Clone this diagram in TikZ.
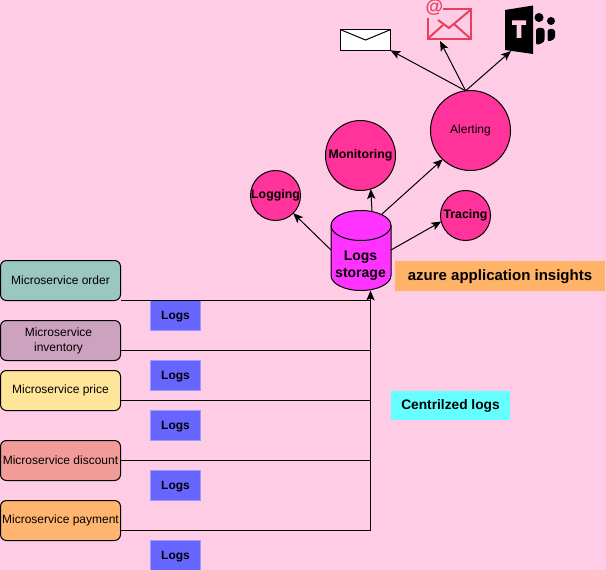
\documentclass[tikz,border=0pt]{standalone}
\usepackage{fontspec}
\setmainfont{Liberation Sans}
\usetikzlibrary{arrows.meta}
\definecolor{bgc}{HTML}{FFCCE6}
\definecolor{hot}{HTML}{FF3399}
\definecolor{cyl}{HTML}{FF33FF}
\definecolor{blu}{HTML}{6666FF}
\definecolor{blus}{HTML}{9999FF}
\definecolor{azu}{HTML}{FFB366}
\definecolor{cya}{HTML}{66FFFF}
\definecolor{teal1}{HTML}{9AC7BF}
\definecolor{mauve}{HTML}{CDA2BE}
\definecolor{yel}{HTML}{FFE599}
\definecolor{sal}{HTML}{F19C99}
\definecolor{ora}{HTML}{FFB570}
\definecolor{mailc}{HTML}{E8405C}
\tikzset{
  every node/.style={inner sep=0pt,outer sep=0pt,align=center,text=black},
  svc/.style={draw=black,line width=.75pt,rounded corners=4.5pt,minimum width=90pt,minimum height=30pt,font=\fontsize{9}{11.25}\selectfont},
  lg/.style={fill=blu,draw=blus,line width=.75pt,minimum width=37.5pt,minimum height=22.5pt},
  lgt/.style={font=\bfseries\fontsize{9}{11}\selectfont},
  ball/.style={circle,draw=black,fill=hot,line width=.75pt,font=\bfseries\fontsize{9.25}{11}\selectfont},
  link/.style={line width=.75pt,draw=black},
  arr/.style={line width=.75pt,draw=black,-{Stealth[length=7.5pt,width=6.2pt,inset=1.8pt]}},
}
\begin{document}
\begin{tikzpicture}[x=.75pt,y=-.75pt]
\path[use as bounding box,fill=bgc] (0,0) rectangle (606,570);
% log labels
\node[lg] (l1) at (175.5,315.5) {};
\node[lg] (l2) at (175.5,375.5) {};
\node[lg] (l3) at (175.5,425.5) {};
\node[lg] (l4) at (175.5,485.5) {};
\node[lg] (l5) at (175.5,555.5) {};
\node[lgt] at (175.5,316.3) {Logs};
\node[lgt] at (175.5,376.3) {Logs};
\node[lgt] at (175.5,426.3) {Logs};
\node[lgt] at (175.5,486.3) {Logs};
\node[lgt] at (175.5,556.3) {Logs};
% services
\node[svc,fill=teal1] (order) at (60.5,280.5) {Microservice order};
\node[svc,fill=mauve] (inventory) at (60.5,340.5) {};
\node[font=\fontsize{9}{11.25}\selectfont] at (58.5,341) {Microservice\\inventory};
\node[svc,fill=yel] (price) at (60.5,390.5) {Microservice price};
\node[svc,fill=sal] (discount) at (60.5,460.5) {Microservice discount};
\node[svc,fill=ora] (payment) at (60.5,520.5) {Microservice payment};
% storage
\fill[cyl,draw=black,line width=.75pt] (331,225.5) -- (331,275.5) arc[start angle=180,end angle=360,x radius=22.5pt,y radius=11.25pt] -- (391,225.5) arc[start angle=0,end angle=180,x radius=22.5pt,y radius=11.25pt] -- cycle;
\draw[line width=.75pt] (331,225.5) arc[start angle=180,end angle=360,x radius=22.5pt,y radius=11.25pt];
\node[minimum width=45pt,minimum height=60pt] (store) at (361,250.5) {};
\node[font=\bfseries\fontsize{10.5}{12.75}\selectfont] at (360.5,265.8) {Logs\\storage};
\coordinate (storeL) at (331,250);
\coordinate (storeT) at (372,211);
\coordinate (storeTR) at (382,214);
\coordinate (storeR) at (391,250);
% circles
\node[ball,minimum size=37.5pt] (logging) at (275.5,195.5) {Logging};
\node[ball,minimum size=52.5pt] (monitoring) at (360.5,155.5) {Monitoring};
\node[ball,minimum size=60pt,font=\fontsize{9}{11}\selectfont] (alerting) at (470.5,130.5) {Alerting};
\node[ball,minimum size=37.5pt] (tracing) at (465.5,215.5) {Tracing};
\node[fill=azu,minimum width=157.5pt,minimum height=22.5pt] (azure) at (500,275.5) {};
\node[font=\bfseries\fontsize{11.25}{13}\selectfont] at (500,276.3) {azure application insights};
\node[fill=cya,minimum width=89.5pt,minimum height=22pt] (central) at (450.5,405.3) {};
\node[font=\bfseries\fontsize{10.3}{12}\selectfont] at (450.5,405.8) {Centrilzed logs};
% icons
\node[draw=black,fill=white,line width=.75pt,minimum width=37.5pt,minimum height=15.5pt] (envelope) at (365.5,40) {};
\draw[line width=.75pt] (envelope.north west) -- (365.5,40) -- (envelope.north east);
\coordinate (mailicon) at (440,41);
\draw[mailc,line width=1.5pt] (443,9.5) -- (471,9.5) -- (471,39) -- (427.5,39) -- (427.5,18);
\draw[mailc,line width=1.5pt] (471,9.5) -- (449,28) -- (438,20);
\draw[mailc,line width=1.5pt] (427.5,39) -- (443,25);
\draw[mailc,line width=1.5pt] (471,39) -- (454,24);
\node[text=mailc,font=\bfseries\fontsize{13.5}{13.5}\selectfont] (atsign) at (434.5,8) {@};
\fill[black] (505,10) -- (533,5.5) -- (533,54) -- (505,50) -- cycle;
\fill[bgc] (512,20.5) -- (526,20.5) -- (526,25) -- (521.3,25) -- (521.3,38) -- (516.7,38) -- (516.7,25) -- (512,25) -- cycle;
\fill[black] (539,17.5) circle[radius=3.4pt];
\fill[black] (551,21) circle[radius=3pt];
\fill[black,rounded corners=2pt] (536,28) -- (544.5,28) -- (544.5,42) -- (536,45.5) -- cycle;
\fill[black,rounded corners=2pt] (547.5,29) -- (555,29) -- (555,39) -- (547.5,42) -- cycle;
\coordinate (teamsicon) at (511,51);
% connectors
\draw[link] (order.south east) -- (370.5,300.5);
\draw[link] ([yshift=-7.5pt]inventory.east) -- (370.5,350.5);
\draw[link] ([yshift=-7.5pt]price.east) -- (370.5,400.5);
\draw[link] (discount.east) -- (370.5,460.5);
\draw[link] ([yshift=-7.5pt]payment.east) -- (370.5,530.5) coordinate (trunk);
\draw[arr] (trunk) -- (store.south -| trunk);
\draw[arr] (storeL) -- (logging.-45);
\draw[arr] (storeT) -- (monitoring.-73);
\draw[arr] (storeTR) -- (alerting.-134);
\draw[arr] (storeR) -- (tracing.-166);
\draw[arr] (alerting.97) -- (envelope.south east);
\draw[arr] (alerting.97) -- (mailicon);
\draw[arr] (alerting.97) -- (teamsicon);
\end{tikzpicture}
\end{document}
